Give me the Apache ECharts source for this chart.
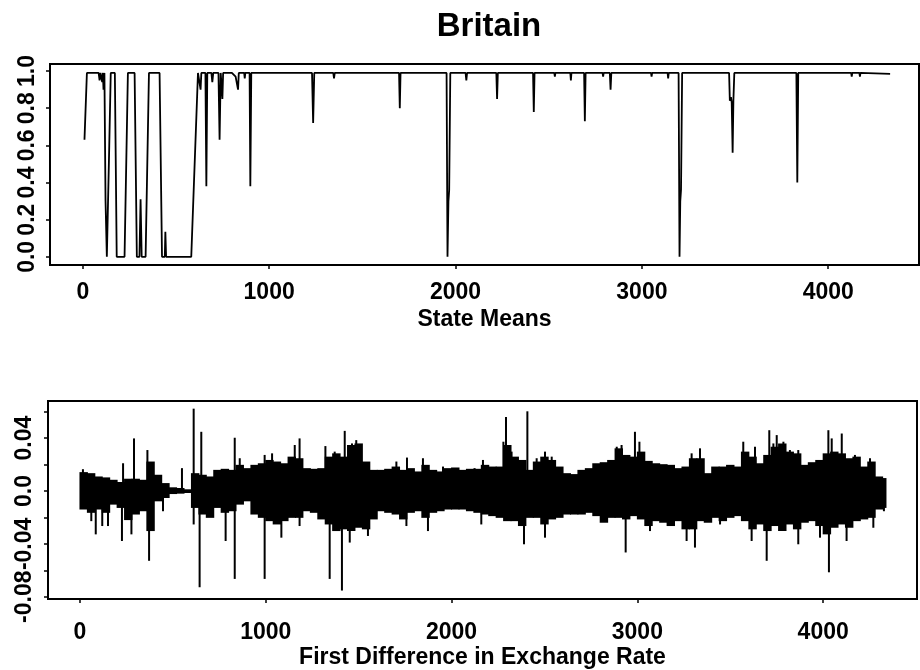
<!DOCTYPE html>
<html>
<head>
<meta charset="utf-8">
<script src="https://cdn.jsdelivr.net/npm/echarts@6/dist/echarts.min.js"></script>
<style>html,body{margin:0;padding:0;background:#fff}#c{width:920px;height:670px}</style>
</head>
<body>
<div id="c"></div>
<script>
// ---------- text ----------
const titleText = 'Britain';
const topAxisName = 'State Means';
const bottomAxisName = 'First Difference in Exchange Rate';

// ---------- ticks ----------
const xTicks = [0, 1000, 2000, 3000, 4000];
const topYTicks = [0, 0.2, 0.4, 0.6, 0.8, 1.0];
const topYLabels = ['0.0', '0.2', '0.4', '0.6', '0.8', '1.0'];
const botYTicks = [-0.08, -0.06, -0.04, -0.02, 0, 0.02, 0.04, 0.06];
const botYLabelTicks = [-0.08, -0.04, 0, 0.04];
const botYLabels = ['-0.08', '-0.04', '0.0', '0.04'];

// ---------- top panel: state means (observation index, probability) ----------
const stateX = [9,22,85,90,95,104,108,111,116,122,129,135,142,150,172,182,224,242,278,290,304,310,316,337,355,412,425,440,443,447,582,618,
  627,632,636,658,663,668,690,695,700,728,734,740,746,749,753,800,820,833,837,866,869,872,895,899,904,
  1230,1236,1242,1344,1348,1352,1697,1701,1705,1952,1957,1962,1966,1972,
  2054,2058,2062,2219,2223,2227,2416,2420,2424,2530,2533,2536,2616,2619,2622,2690,2694,2698,2789,2792,2795,2828,2832,2836,
  3049,3052,3055,3138,3141,3144,3197,3202,3206,3210,3216,3468,3472,3478,3482,3487,3491,3496,3829,3834,3839,
  4123,4126,4129,4167,4170,4173,4332];
const stateY = [0.63,0.99,0.99,0.95,0.99,0.94,0.99,0.90,0.99,0.30,0,0,0.60,0.99,0.99,0,0,0.99,0.99,0,0,0.31,0,0,0.99,0.99,0,0,0.135,0,0,0.99,
  0.99,0.90,0.99,0.99,0.38,0.99,0.99,0.94,0.99,0.99,0.63,0.99,0.99,0.85,0.99,0.99,0.97,0.90,0.99,0.99,0.96,0.99,0.99,0.38,0.99,
  0.99,0.72,0.99,0.99,0.96,0.99,0.99,0.80,0.99,0.99,0,0.30,0.36,0.99,
  0.99,0.95,0.99,0.99,0.85,0.99,0.99,0.78,0.99,0.99,0.97,0.99,0.99,0.95,0.99,0.99,0.73,0.99,0.99,0.97,0.99,0.99,0.90,0.99,
  0.99,0.97,0.99,0.99,0.96,0.99,0.99,0,0.30,0.36,0.99,0.99,0.84,0.86,0.83,0.56,0.84,0.99,0.99,0.40,0.99,
  0.99,0.97,0.99,0.99,0.97,0.99,0.985];

// ---------- bottom panel: first difference, dense band per 40-obs bin ----------
const bandX = [0,40,80,120,160,200,240,280,320,360,400,440,480,520,560,600,640,680,720,760,800,840,880,920,960,1000,
  1040,1080,1120,1160,1200,1240,1280,1320,1360,1400,1440,1480,1520,1560,1600,1640,1680,1720,1760,1800,1840,1880,1920,1960,2000,
  2040,2080,2120,2160,2200,2240,2280,2320,2360,2400,2440,2480,2520,2560,2600,2640,2680,2720,2760,2800,2840,2880,2920,2960,3000,
  3040,3080,3120,3160,3200,3240,3280,3320,3360,3400,3440,3480,3520,3560,3600,3640,3680,3720,3760,3800,3840,3880,3920,3960,4000,
  4040,4080,4120,4160,4200,4240,4280,4320,4338];
const bandHi = [
  .0143,.0135,.011,.0103,.0085,.0068,.0093,.0093,.0085,.0223,
  .0123,.006,.0028,.0023,.0013,.0135,.0123,.011,.016,.0168,
  .016,.0198,.0173,.0198,.021,.0235,.0223,.021,.026,.0248,
  .0173,.0168,.0173,.026,.0285,.026,.0348,.036,.0223,.016,
  .016,.0168,.0185,.016,.0173,.0148,.0198,.016,.0148,.0173,
  .0178,.016,.0168,.0168,.0198,.0185,.0185,.0348,.026,.0235,
  .016,.0223,.026,.0235,.0185,.0135,.0128,.016,.0173,.021,
  .0218,.0235,.0323,.0273,.026,.0298,.0228,.021,.0203,.0198,
  .0173,.0185,.0248,.0248,.0135,.0185,.0185,.0198,.0185,.0298,
  .026,.021,.0273,.0335,.036,.0298,.0285,.0198,.0218,.0235,
  .0285,.0298,.0285,.0248,.026,.0185,.0223,.011,.0098];
const bandLo = [
  -.014,-.0165,-.014,-.0165,-.0103,-.0128,-.022,-.0178,-.0153,-.0303,
  -.0078,-.0053,-.0023,-.002,-.0015,-.0128,-.0178,-.0203,-.0128,-.0165,
  -.0153,-.0103,-.0078,-.0178,-.0203,-.0228,-.0253,-.0228,-.0203,-.0203,
  -.0153,-.0165,-.0215,-.0253,-.0303,-.029,-.0303,-.0278,-.029,-.0215,
  -.0153,-.0165,-.0178,-.0215,-.0165,-.0153,-.0203,-.0165,-.0153,-.014,
  -.014,-.014,-.0153,-.0165,-.0178,-.019,-.0203,-.0228,-.0228,-.0265,
  -.0203,-.0203,-.0253,-.0215,-.0203,-.0178,-.0178,-.0178,-.0165,-.019,
  -.024,-.0203,-.0203,-.0215,-.019,-.0215,-.0265,-.0228,-.024,-.0265,
  -.0228,-.029,-.029,-.0228,-.024,-.0203,-.0228,-.0203,-.019,-.0228,
  -.029,-.0253,-.0303,-.0265,-.0303,-.0253,-.029,-.024,-.0228,-.0265,
  -.0328,-.0278,-.0253,-.0278,-.0228,-.0215,-.0203,-.014,-.0128];

// ---------- bottom panel: individual spikes (observation index, value) ----------
const spikeX = [16,61,85,120,151,226,232,277,291,363,372,447,549,612,612,644,653,784,833,833,860,994,994,1034,1084,1156,1182,1182,
  1321,1344,1371,1410,1425,1452,1464,1487,1550,1703,1757,1760,1846,1873,1954,2124,2160,2169,
  2279,2293,2323,2390,2408,2458,2503,2503,2539,2889,2915,2937,2987,3011,3068,3265,3292,3310,3337,3445,
  3570,3615,3633,3696,3710,3732,3750,3786,3821,3866,3866,3983,4028,4031,4046,4100,4126,4171,4252,4270,4327];
const spikeY = [0.0165,-0.0228,-0.0328,-0.0265,-0.0265,-0.0378,0.021,-0.0328,0.0398,0.031,-0.0528,-0.0153,0.0173,0.0623,-0.0253,-0.0728,0.0448,-0.0378,0.0403,-0.0665,0.0248,-0.0665,0.0273,0.0285,-0.0353,0.0348,0.0398,-0.0265,
  0.034,-0.0665,0.0298,-0.0753,0.0455,-0.039,0.036,0.0385,-0.034,0.0223,-0.0265,0.0253,0.0248,-0.0303,0.0185,0.0173,-0.0253,0.0235,
  0.0373,0.056,0.0298,-0.0403,0.0603,0.0248,0.0298,-0.0353,0.026,0.0335,0.0348,-0.0465,0.0448,0.0373,-0.0303,-0.0378,0.0285,-0.0428,0.0323,-0.0253,
  0.0373,-0.0378,0.0335,-0.0528,0.046,0.036,0.0423,0.0373,0.031,0.031,-0.0403,-0.0353,0.046,-0.0615,0.0398,0.0435,-0.0378,0.0273,0.0248,-0.0278,-0.0153];

// ---------- chart ----------
const FONT = '"Liberation Sans", Arial, Helvetica, sans-serif';
const txt = {color: '#000', fontFamily: FONT, fontSize: 23, fontWeight: 'bold'};
const stateData = stateX.map((x, i) => [x, stateY[i]]);
const bandData = bandHi.map((h, i) => [bandX[i], bandX[i + 1], bandLo[i], h]);
const spikeData = spikeX.map((x, i) => [x, spikeY[i]]);

const chart = echarts.init(document.getElementById('c'), null, {renderer: 'canvas'});

function xAxisCfg(grid, min, max, name, margin, gap) {
  return {
    type: 'value', gridIndex: grid, min: min, max: max,
    axisLine: {show: false, onZero: false}, splitLine: {show: false},
    axisTick: {show: true, customValues: xTicks, length: 4, inside: false, lineStyle: {color: '#000', width: 1.5}},
    axisLabel: Object.assign({customValues: xTicks, margin: margin, formatter: v => String(v)}, txt),
    name: name, nameLocation: 'middle', nameGap: gap, nameTextStyle: Object.assign({}, txt)
  };
}

chart.setOption({
  animation: false,
  backgroundColor: '#fff',
  title: {text: titleText, left: 484, top: 5, textAlign: 'center',
    textStyle: {color: '#000', fontFamily: FONT, fontSize: 33, fontWeight: 'bold'}},
  grid: [
    {left: 50, top: 64, width: 869, height: 201, show: true, borderColor: '#000', borderWidth: 2, backgroundColor: 'transparent'},
    {left: 48, top: 401, width: 869, height: 199, show: true, borderColor: '#000', borderWidth: 2, backgroundColor: 'transparent'}
  ],
  xAxis: [
    xAxisCfg(0, -176, 4487, topAxisName, 16, 43),
    xAxisCfg(1, -172, 4505, bottomAxisName, 22, 47)
  ],
  yAxis: [
    {type: 'value', gridIndex: 0, min: -0.044, max: 1.038,
      axisLine: {show: false, onZero: false}, splitLine: {show: false},
      axisTick: {show: true, customValues: topYTicks, length: 4, lineStyle: {color: '#000', width: 1.5}},
      axisLabel: Object.assign({customValues: topYTicks, rotate: 90, margin: 11,
        formatter: v => topYLabels[topYTicks.indexOf(v)]}, txt)},
    {type: 'value', gridIndex: 1, min: -0.0817, max: 0.0681,
      axisLine: {show: false, onZero: false}, splitLine: {show: false},
      axisTick: {show: true, customValues: botYTicks, length: 4, lineStyle: {color: '#000', width: 1.5}},
      axisLabel: Object.assign({customValues: botYLabelTicks, rotate: 90, margin: 12,
        formatter: v => botYLabels[botYLabelTicks.indexOf(v)]}, txt)}
  ],
  series: [
    {type: 'line', xAxisIndex: 0, yAxisIndex: 0, data: stateData, showSymbol: false, silent: true,
      lineStyle: {color: '#000', width: 1.8}},
    {type: 'custom', xAxisIndex: 1, yAxisIndex: 1, data: bandData, silent: true, clip: true,
      encode: {x: [0, 1], y: [2, 3]},
      renderItem: function (params, api) {
        const a = api.coord([api.value(0), api.value(3)]);
        const b = api.coord([api.value(1), api.value(2)]);
        return {type: 'rect', shape: {x: a[0] - 0.5, y: a[1], width: b[0] - a[0] + 1, height: b[1] - a[1]},
          style: {fill: '#000'}};
      }},
    {type: 'custom', xAxisIndex: 1, yAxisIndex: 1, data: spikeData, silent: true, clip: true,
      encode: {x: 0, y: 1},
      renderItem: function (params, api) {
        const a = api.coord([api.value(0), 0]);
        const b = api.coord([api.value(0), api.value(1)]);
        return {type: 'line', shape: {x1: a[0], y1: a[1], x2: b[0], y2: b[1]},
          style: {stroke: '#000', lineWidth: 2}};
      }}
  ]
});
</script>
</body>
</html>
